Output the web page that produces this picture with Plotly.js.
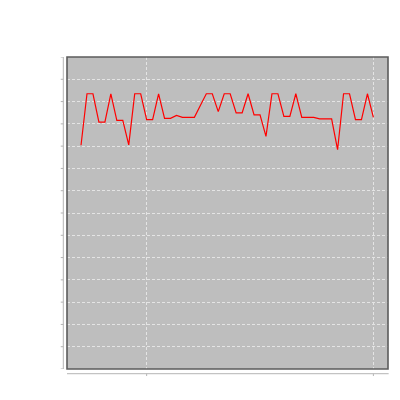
<!DOCTYPE html>
<html>
<head>
<meta charset="utf-8">
<script src="https://cdn.plot.ly/plotly-3.0.1.min.js"></script>
<style>html,body{margin:0;padding:0;background:#fff;}#chart{width:400px;height:400px;}</style>
</head>
<body>
<div id="chart"></div>
<script>
// Data (y in arbitrary units, gridlines at integers)
var xIndex = [];
for (var k = 1; k <= 50; k++) xIndex.push(k);
var yValues = [
  10.04, 12.35, 12.35, 11.08, 11.08, 12.35, 11.16, 11.16, 10.06, 12.35,
  12.35, 11.19, 11.19, 12.35, 11.25, 11.25, 11.38, 11.29, 11.29, 11.29,
  11.82, 12.35, 12.35, 11.55, 12.35, 12.35, 11.49, 11.49, 12.35, 11.40,
  11.40, 10.44, 12.35, 12.35, 11.34, 11.34, 12.35, 11.29, 11.29, 11.29,
  11.22, 11.22, 11.22, 9.84, 12.35, 12.35, 11.19, 11.19, 12.35, 11.29
];
var xTicks = [12, 50];
var yTicks = [0,1,2,3,4,5,6,7,8,9,10,11,12,13,14];

var axisColor = '#b4b4b4';
var shapes = [];
// panel border
shapes.push({type:'rect', xref:'paper', yref:'paper', x0:0, x1:1, y0:0, y1:1,
  line:{color:'#5c5c5c', width:1.6}, layer:'above'});
// offset left axis line
shapes.push({type:'line', xref:'paper', yref:'paper', x0:-0.0115, x1:-0.0115, y0:0, y1:1,
  line:{color:axisColor, width:1}});
yTicks.forEach(function(v){
  shapes.push({type:'line', xref:'paper', yref:'y', x0:-0.0195, x1:-0.0115, y0:v, y1:v,
    line:{color:axisColor, width:1}});
});
// offset bottom axis line
shapes.push({type:'line', xref:'paper', yref:'paper', x0:0, x1:1.002, y0:-0.0151, y1:-0.0151,
  line:{color:axisColor, width:1}});
xTicks.forEach(function(v){
  shapes.push({type:'line', xref:'x', yref:'paper', x0:v, x1:v, y0:-0.0151, y1:-0.0225,
    line:{color:axisColor, width:1}});
});

var trace = {
  x: xIndex, y: yValues, type:'scatter', mode:'lines',
  line:{color:'#ff0000', width:1.2}, hoverinfo:'none'
};

var layout = {
  width:400, height:400,
  margin:{l:67, r:12, t:57, b:31, pad:0},
  paper_bgcolor:'#ffffff',
  plot_bgcolor:'#bebebe',
  showlegend:false,
  xaxis:{range:[-1.35, 52.45], tickmode:'array', tickvals:xTicks, showticklabels:false,
    ticks:'', showline:false, zeroline:false, showgrid:true, gridcolor:'#e4e4e4',
    gridwidth:1, griddash:'3px,2px'},
  yaxis:{range:[0, 14], tickmode:'array', tickvals:yTicks, showticklabels:false,
    ticks:'', showline:false, zeroline:false, showgrid:true, gridcolor:'#e4e4e4',
    gridwidth:1, griddash:'3px,2px'},
  shapes: shapes
};

Plotly.newPlot('chart', [trace], layout, {displayModeBar:false, staticPlot:true});
</script>
</body>
</html>
